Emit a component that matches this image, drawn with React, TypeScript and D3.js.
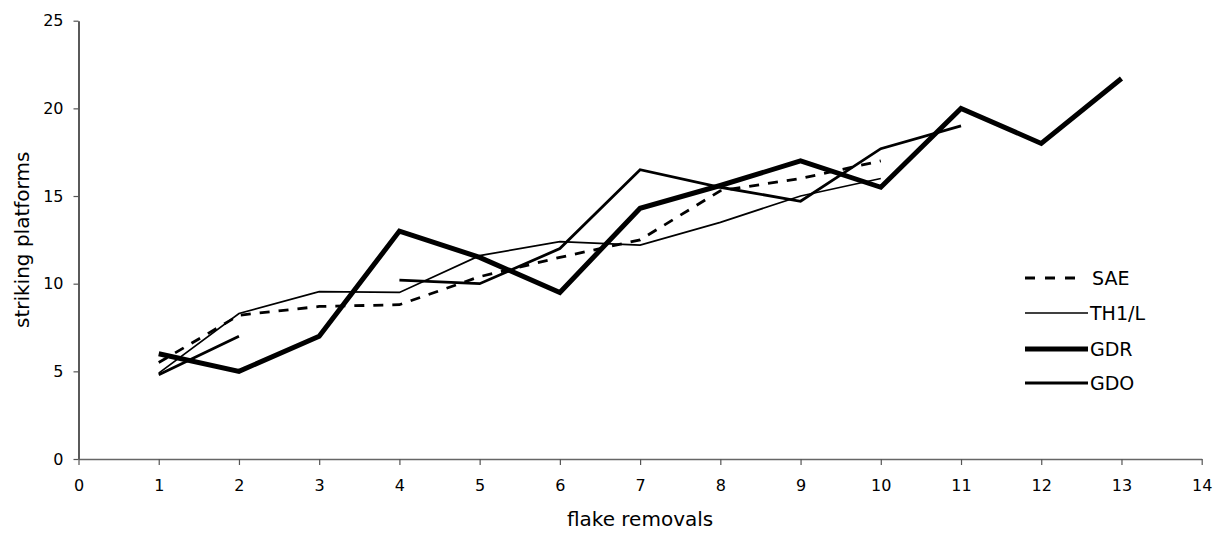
import { axisBottom, axisLeft, line, scaleLinear, select } from "d3";
import { useEffect, useRef } from "react";

// flake removal number on the x axis
const removals = [1, 2, 3, 4, 5, 6, 7, 8, 9, 10, 11, 12, 13];

// striking platforms per series (null = no value)
const sae = [5.5, 8.2, 8.7, 8.8, 10.4, 11.5, 12.5, 15.3, 16.0, 17.0];
const th1l = [4.9, 8.3, 9.55, 9.5, 11.6, 12.4, 12.2, 13.5, 15.0, 16.0];
const gdr = [6.0, 5.0, 7.0, 13.0, 11.5, 9.5, 14.3, 15.6, 17.0, 15.5, 20.0, 18.0, 21.7];
const gdo = [4.8, 7.0, null, 10.2, 10.0, 12.0, 16.5, 15.5, 14.7, 17.7, 19.0];

const xTicks = [0, 1, 2, 3, 4, 5, 6, 7, 8, 9, 10, 11, 12, 13, 14];
const yTicks = [0, 5, 10, 15, 20, 25];

const seriesNames = ["SAE", "TH1/L", "GDR", "GDO"];

const width = 1220;
const height = 533;
const marginLeft = 78.5;
const marginRight = 18.3;
const marginTop = 20.7;
const marginBottom = 74;
const font = "'DejaVu Sans', Verdana, sans-serif";

const styles = [
  { width: 2.8, dash: "10,9", legendDash: "10,10" },
  { width: 1.7, dash: null, legendDash: null },
  { width: 5, dash: null, legendDash: null },
  { width: 2.8, dash: null, legendDash: null },
];

export default function App() {
  const gx = useRef<SVGGElement>(null);
  const gy = useRef<SVGGElement>(null);

  const x = scaleLinear([0, 14], [marginLeft, width - marginRight]);
  const y = scaleLinear([0, 25], [height - marginBottom, marginTop]);

  useEffect(() => {
    const g = select(gx.current);
    g.call(axisBottom(x).tickValues(xTicks).tickSize(6).tickSizeOuter(0).tickPadding(15) as any);
    g.select(".domain").attr("stroke", "#666").attr("stroke-width", 1.3);
    g.selectAll(".tick line").attr("stroke", "#555").attr("stroke-width", 1.2);
    g.selectAll(".tick text").attr("font-size", 16).attr("font-family", font).attr("fill", "#000");
  }, [x]);

  useEffect(() => {
    const g = select(gy.current);
    g.call(axisLeft(y).tickValues(yTicks).tickSize(5).tickSizeOuter(0).tickPadding(10) as any);
    g.select(".domain").attr("stroke", "#000").attr("stroke-width", 1.3);
    g.selectAll(".tick line").attr("stroke", "#555").attr("stroke-width", 1.2);
    g.selectAll(".tick text").attr("font-size", 16).attr("font-family", font).attr("fill", "#000");
  }, [y]);

  const lineGen = line<number | null>()
    .defined((d) => d != null)
    .x((_, i) => x(removals[i]))
    .y((d) => y(d as number));

  const series = [sae, th1l, gdr, gdo];
  const legendY = [278, 313, 349, 383];

  return (
    <svg
      width={width}
      height={height}
      style={{ position: "absolute", left: 0, top: 0, background: "#fff" }}
      fontFamily={font}
    >
      <g ref={gy} transform={`translate(${marginLeft},0)`} />
      {series.map((s, i) => (
        <path
          key={seriesNames[i]}
          d={lineGen(s) ?? ""}
          fill="none"
          stroke="#000"
          strokeWidth={styles[i].width}
          strokeDasharray={styles[i].dash ?? undefined}
          strokeLinejoin="miter"
        />
      ))}
      <g ref={gx} transform={`translate(0,${height - marginBottom})`} />
      {seriesNames.map((name, i) => (
        <g key={name}>
          <line
            x1={1025}
            x2={i === 0 ? 1078 : 1088}
            y1={legendY[i]}
            y2={legendY[i]}
            stroke="#000"
            strokeWidth={styles[i].width}
            strokeDasharray={styles[i].legendDash ?? undefined}
          />
          <text x={i === 0 ? 1092 : 1090} y={legendY[i]} dy="0.36em" fontSize={19}>
            {name}
          </text>
        </g>
      ))}
      <text
        x={(marginLeft + width - marginRight) / 2}
        y={526}
        textAnchor="middle"
        fontSize={20}
      >
        flake removals
      </text>
      <text
        transform={`translate(22,${(marginTop + height - marginBottom) / 2}) rotate(-90)`}
        textAnchor="middle"
        dy="0.36em"
        fontSize={20}
      >
        striking platforms
      </text>
    </svg>
  );
}
